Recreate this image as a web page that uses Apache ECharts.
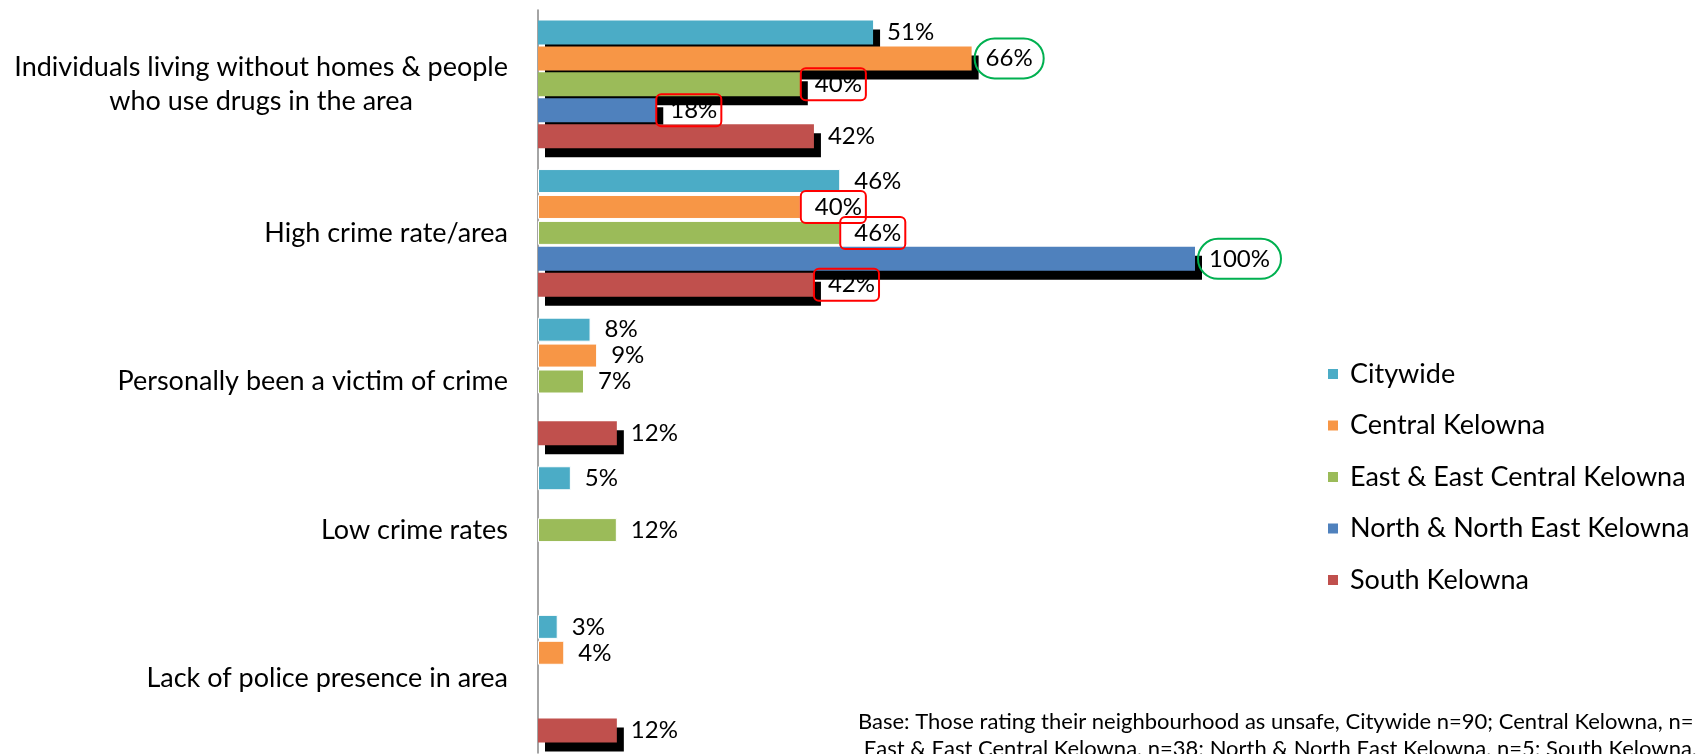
<!DOCTYPE html>
<html>
<head>
<meta charset="utf-8">
<script src="https://cdn.jsdelivr.net/npm/echarts@6/dist/echarts.min.js"></script>
<style>
  html, body { margin: 0; padding: 0; background: #fff; }
  #chart { width: 1703px; height: 754px; }
</style>
</head>
<body>
<div id="chart"></div>
<script>
// reasons for feeling unsafe, % by area
const categories = [
    'Individuals living without homes & people\nwho use drugs in the area',
    'High crime rate/area',
    'Personally been a victim of crime',
    'Low crime rates',
    'Lack of police presence in area'
];
const seriesNames = ['Citywide', 'Central Kelowna', 'East & East Central Kelowna', 'North & North East Kelowna', 'South Kelowna'];
const citywide = [51, 46, 8, 5, 3];
const centralKelowna = [66, 40, 9, null, 4];
const eastCentralKelowna = [40, 46, 7, 12, null];
const northEastKelowna = [18, 100, null, null, null];
const southKelowna = [42, 42, 12, null, 12];
const footnote = 'Base: Those rating their neighbourhood as unsafe, Citywide n=90; Central Kelowna, n= \n East & East Central Kelowna, n=38; North & North East Kelowna, n=5; South Kelowna, n';

// which cells get the black shadow / red box / green ring  ([series, category])
const shadowCells = [[0, 0], [1, 0], [2, 0], [3, 0], [4, 0], [3, 1], [4, 1], [4, 2], [4, 4]];
const redBoxCells = [[2, 0], [3, 0], [1, 1], [2, 1], [4, 1]];
const greenRingCells = [[1, 0], [3, 1]];

const colors = ['#4BACC6', '#F79646', '#9BBB59', '#4F81BD', '#C0504D'];
const allValues = [citywide, centralKelowna, eastCentralKelowna, northEastKelowna, southKelowna];
const FONT = 'Lato';

function has(list, s, c) {
    return list.some(function (p) { return p[0] === s && p[1] === c; });
}

let series = [];
for (let s = 0; s < allValues.length; ++s) {
    let data = allValues[s].map(function (v, c) {
        let item = {value: v};
        if (has(shadowCells, s, c)) {
            // no white border here, otherwise the border's shadow shows inside the bar
            item.itemStyle = {
                borderWidth: 0,
                shadowColor: '#000',
                shadowBlur: 0,
                shadowOffsetX: 7,
                shadowOffsetY: 9
            };
        }
        if (has(redBoxCells, s, c)) {
            item.label = {borderColor: '#FF0000', borderWidth: 2, borderRadius: 5};
        } else if (has(greenRingCells, s, c)) {
            item.label = {
                borderColor: '#00B050', borderWidth: 2, borderRadius: 21,
                padding: [7, 11, 6, 11], distance: 3
            };
        }
        return item;
    });
    series.push({
        name: seriesNames[s],
        type: 'bar',
        barWidth: 24,
        barGap: '8%',
        itemStyle: {color: colors[s], borderColor: '#fff', borderWidth: 1},
        label: {
            show: true,
            position: 'right',
            distance: 0,
            padding: [3, 4, 2, 14],
            fontFamily: FONT,
            fontSize: 24,
            lineHeight: 27,
            color: '#000',
            formatter: function (p) { return p.value + '%'; }
        },
        data: data
    });
}

const myChart = echarts.init(document.getElementById('chart'));
let options = {
    color: colors,
    animation: false,
    legend: {
        orient: 'vertical',
        left: 1321,
        top: 354,
        icon: 'rect',
        itemWidth: 12,
        itemHeight: 12,
        itemGap: 21.5,
        textStyle: {
            fontFamily: FONT,
            fontSize: 27,
            lineHeight: 30,
            color: '#000',
            padding: [0, 0, 0, 6]
        },
        data: seriesNames
    },
    grid: {
        left: 538,
        right: 508,
        top: 10,
        bottom: 1
    },
    xAxis: {
        type: 'value',
        min: 0,
        max: 100,
        show: false
    },
    yAxis: {
        type: 'category',
        inverse: true,
        data: categories,
        axisLine: {lineStyle: {color: '#868686', width: 1.5}},
        axisTick: {length: 9, lineStyle: {color: '#868686', width: 1.5}},
        axisLabel: {
            margin: 30,
            formatter: function (value) {
                return value.split('\n').map(function (l) { return '{c|' + l + '}'; }).join('\n');
            },
            rich: {
                c: {
                    align: 'center',
                    fontFamily: FONT,
                    fontSize: 27,
                    lineHeight: 34,
                    color: '#000'
                }
            }
        }
    },
    graphic: [{
        type: 'text',
        left: 858,
        top: 708,
        style: {
            text: footnote,
            fontFamily: FONT,
            fontSize: 22,
            lineHeight: 27,
            fill: '#000'
        }
    }],
    series: series
};
myChart.setOption(options, true);
</script>
</body>
</html>
